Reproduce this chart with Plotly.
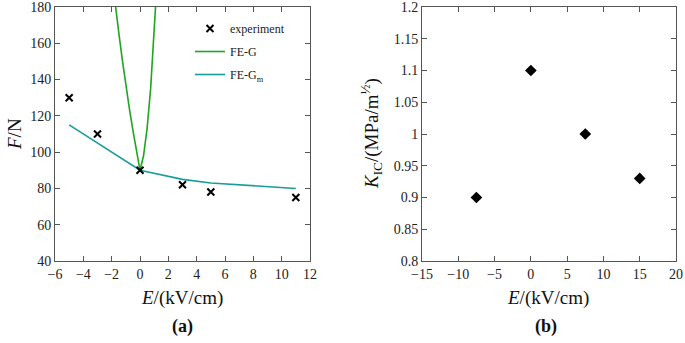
import plotly.graph_objects as go

# ---- data: panel (a) ----
E_exp = [-5, -3, 0, 3, 5, 11]
F_exp = [130, 110, 90, 82, 78, 75]

E_feg = [-2.0, -1.75, -1.5, -1.25, -1.0, -0.75, -0.5, -0.25, 0.0, 0.25, 0.5, 0.75, 1.0, 1.25]
F_feg = [198, 181, 166, 151, 137, 124, 112, 100, 90, 98, 113, 135, 164, 200]

E_fegm = [-5, -3, 0, 3, 5, 11]
F_fegm = [115, 105, 90, 85, 83, 80]

ax_x_ticks = [-6, -4, -2, 0, 2, 4, 6, 8, 10, 12]
ax_y_ticks = [40, 60, 80, 100, 120, 140, 160, 180]

# ---- data: panel (b) ----
E_kic = [-7.5, 0, 7.5, 15]
K_ic = [0.90, 1.10, 1.00, 0.93]

bx_x_ticks = [-15, -10, -5, 0, 5, 10, 15, 20]
bx_y_ticks = [0.8, 0.85, 0.9, 0.95, 1.0, 1.05, 1.1, 1.15, 1.2]
bx_y_text = ["0.8", "0.85", "0.9", "0.95", "1", "1.05", "1.1", "1.15", "1.2"]

W, H = 685, 343
FONT = "Liberation Serif, Times New Roman, DejaVu Serif, serif"
GREEN = "#1fa51f"
TEAL = "#1a9c9c"
AXC = "#555555"

fig = go.Figure()

fig.add_trace(go.Scatter(
    x=E_feg, y=F_feg, mode="lines", name="FE-G", legendrank=2,
    line=dict(color=GREEN, width=1.6), xaxis="x", yaxis="y", legendgroup="b"))
fig.add_trace(go.Scatter(
    x=E_fegm, y=F_fegm, mode="lines", name="FE-G<sub>m</sub>", legendrank=3,
    line=dict(color=TEAL, width=1.6), xaxis="x", yaxis="y", legendgroup="c"))
fig.add_trace(go.Scatter(
    x=E_exp, y=F_exp, mode="markers", name="experiment", legendrank=1,
    marker=dict(symbol="x-thin", size=7, color="black",
                line=dict(width=2, color="black")),
    xaxis="x", yaxis="y", legendgroup="a", cliponaxis=False))

fig.add_trace(go.Scatter(
    x=E_kic, y=K_ic, mode="markers", showlegend=False,
    marker=dict(symbol="diamond", size=9, color="black"),
    xaxis="x2", yaxis="y2"))

def px(x):
    return x / W

def py(y):
    return 1 - y / H

axis_common = dict(
    showgrid=False, zeroline=False, showline=True, linecolor=AXC, linewidth=1,
    mirror="allticks", ticks="inside", ticklen=5, tickcolor=AXC, tickwidth=1,
    tickfont=dict(family=FONT, size=14, color="#222"),
    ticklabeloverflow="allow", automargin=False,
)

fig.update_layout(
    width=W, height=H, margin=dict(l=0, r=0, t=0, b=0, autoexpand=False),
    paper_bgcolor="white", plot_bgcolor="white",
    font=dict(family=FONT, color="#222"),
    xaxis=dict(domain=[px(55), px(310)], range=[-6, 12], tickvals=ax_x_ticks,
               anchor="y", **axis_common),
    yaxis=dict(domain=[py(261), py(7)], range=[40, 180], tickvals=ax_y_ticks,
               anchor="x", **axis_common),
    xaxis2=dict(domain=[px(422), px(676)], range=[-15, 20], tickvals=bx_x_ticks,
                anchor="y2", **axis_common),
    yaxis2=dict(domain=[py(261), py(7)], range=[0.8, 1.2], tickvals=bx_y_ticks,
                ticktext=bx_y_text, anchor="x2", **axis_common),
    showlegend=True,
    legend=dict(x=px(190), y=py(14), xanchor="left", yanchor="top",
                bgcolor="rgba(0,0,0,0)", tracegroupgap=4,
                font=dict(family=FONT, size=12, color="#222"),
                traceorder="grouped"),
)

annots = [
    dict(x=px(182), y=py(298), text="<i>E</i>/(kV/cm)", size=19),
    dict(x=px(548), y=py(298), text="<i>E</i>/(kV/cm)", size=19),
    dict(x=px(183), y=py(326), text="<b>(a)</b>", size=18),
    dict(x=px(546), y=py(326), text="<b>(b)</b>", size=18),
]
for a in annots:
    fig.add_annotation(x=a["x"], y=a["y"], xref="paper", yref="paper",
                       text=a["text"], showarrow=False,
                       font=dict(family=FONT, size=a["size"], color="#111"),
                       xanchor="center", yanchor="middle")

fig.add_annotation(x=px(14), y=py(134), xref="paper", yref="paper",
                   text="<i>F</i>/N", showarrow=False, textangle=-90,
                   font=dict(family=FONT, size=19, color="#111"),
                   xanchor="center", yanchor="middle")
fig.add_annotation(x=px(371), y=py(134), xref="paper", yref="paper",
                   text="<i>K</i><sub>IC</sub>/(MPa/m<sup>½</sup>)", showarrow=False,
                   textangle=-90,
                   font=dict(family=FONT, size=19, color="#111"),
                   xanchor="center", yanchor="middle")

fig.write_html("out.html", config={"displayModeBar": False},
               post_script="document.body.style.margin='0px';")
